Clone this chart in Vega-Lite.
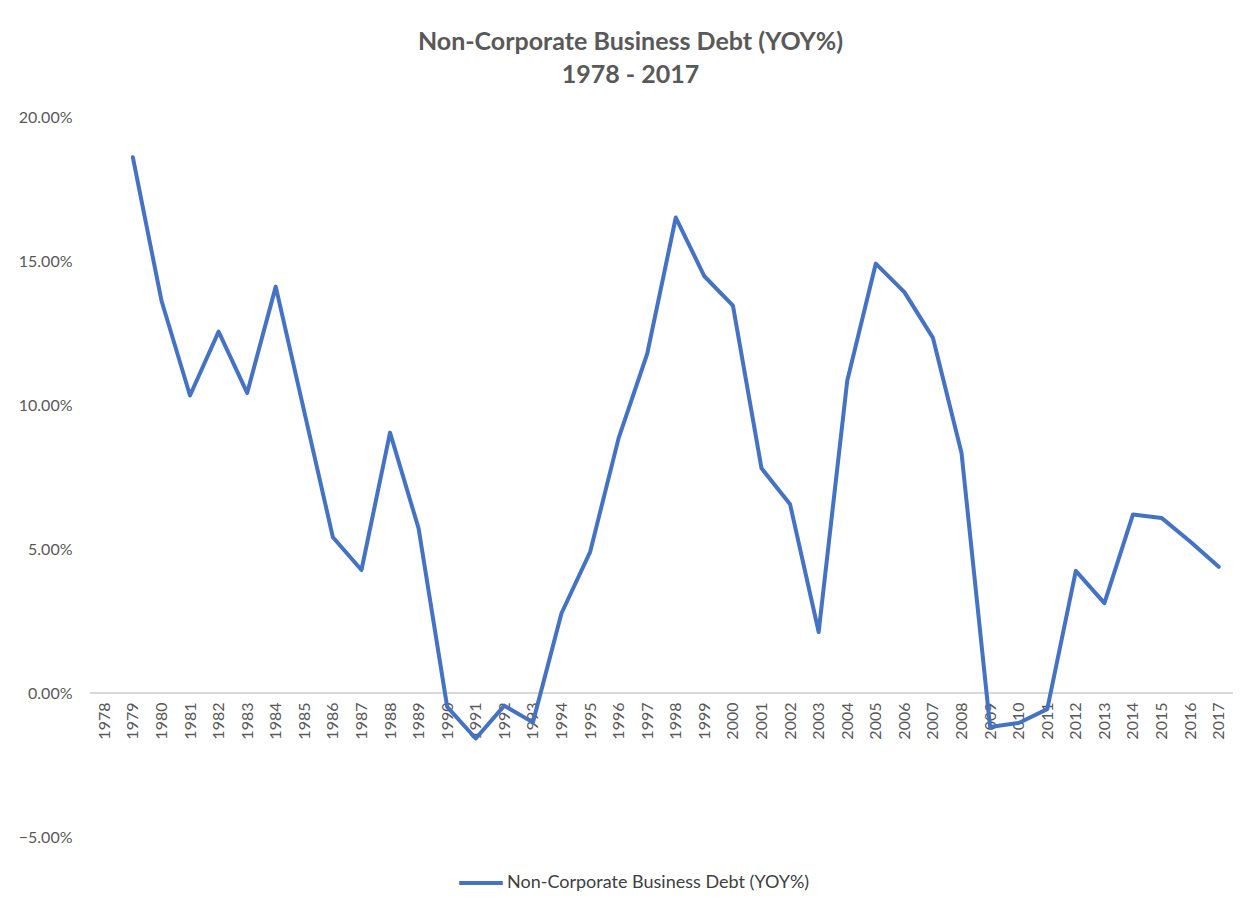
{
  "$schema": "https://vega.github.io/schema/vega-lite/v6.json",
  "width": 1143,
  "height": 720,
  "autosize": {"type": "none"},
  "padding": {"left": 90, "top": 117, "right": 18, "bottom": 69},
  "background": "white",
  "config": {
    "font": "Lato",
    "view": {"stroke": null}
  },
  "title": {
    "text": ["Non-Corporate Business Debt (YOY%)", "1978 - 2017"],
    "fontSize": 25,
    "fontWeight": "bold",
    "color": "#595959",
    "anchor": "middle",
    "frame": "group",
    "dx": -31,
    "offset": 21,
    "lineHeight": 33
  },
  "data": {
    "values": [
      {"Year": "1978", "Value": null, "Series": "Non-Corporate Business Debt (YOY%)"},
      {"Year": "1979", "Value": 0.1860, "Series": "Non-Corporate Business Debt (YOY%)"},
      {"Year": "1980", "Value": 0.1363, "Series": "Non-Corporate Business Debt (YOY%)"},
      {"Year": "1981", "Value": 0.1033, "Series": "Non-Corporate Business Debt (YOY%)"},
      {"Year": "1982", "Value": 0.1255, "Series": "Non-Corporate Business Debt (YOY%)"},
      {"Year": "1983", "Value": 0.1042, "Series": "Non-Corporate Business Debt (YOY%)"},
      {"Year": "1984", "Value": 0.1411, "Series": "Non-Corporate Business Debt (YOY%)"},
      {"Year": "1985", "Value": 0.0976, "Series": "Non-Corporate Business Debt (YOY%)"},
      {"Year": "1986", "Value": 0.0541, "Series": "Non-Corporate Business Debt (YOY%)"},
      {"Year": "1987", "Value": 0.0427, "Series": "Non-Corporate Business Debt (YOY%)"},
      {"Year": "1988", "Value": 0.0904, "Series": "Non-Corporate Business Debt (YOY%)"},
      {"Year": "1989", "Value": 0.0571, "Series": "Non-Corporate Business Debt (YOY%)"},
      {"Year": "1990", "Value": -0.0048, "Series": "Non-Corporate Business Debt (YOY%)"},
      {"Year": "1991", "Value": -0.0158, "Series": "Non-Corporate Business Debt (YOY%)"},
      {"Year": "1992", "Value": -0.0044, "Series": "Non-Corporate Business Debt (YOY%)"},
      {"Year": "1993", "Value": -0.0102, "Series": "Non-Corporate Business Debt (YOY%)"},
      {"Year": "1994", "Value": 0.0277, "Series": "Non-Corporate Business Debt (YOY%)"},
      {"Year": "1995", "Value": 0.0489, "Series": "Non-Corporate Business Debt (YOY%)"},
      {"Year": "1996", "Value": 0.0885, "Series": "Non-Corporate Business Debt (YOY%)"},
      {"Year": "1997", "Value": 0.1178, "Series": "Non-Corporate Business Debt (YOY%)"},
      {"Year": "1998", "Value": 0.1651, "Series": "Non-Corporate Business Debt (YOY%)"},
      {"Year": "1999", "Value": 0.1447, "Series": "Non-Corporate Business Debt (YOY%)"},
      {"Year": "2000", "Value": 0.1345, "Series": "Non-Corporate Business Debt (YOY%)"},
      {"Year": "2001", "Value": 0.0780, "Series": "Non-Corporate Business Debt (YOY%)"},
      {"Year": "2002", "Value": 0.0655, "Series": "Non-Corporate Business Debt (YOY%)"},
      {"Year": "2003", "Value": 0.0212, "Series": "Non-Corporate Business Debt (YOY%)"},
      {"Year": "2004", "Value": 0.1084, "Series": "Non-Corporate Business Debt (YOY%)"},
      {"Year": "2005", "Value": 0.1491, "Series": "Non-Corporate Business Debt (YOY%)"},
      {"Year": "2006", "Value": 0.1392, "Series": "Non-Corporate Business Debt (YOY%)"},
      {"Year": "2007", "Value": 0.1233, "Series": "Non-Corporate Business Debt (YOY%)"},
      {"Year": "2008", "Value": 0.0833, "Series": "Non-Corporate Business Debt (YOY%)"},
      {"Year": "2009", "Value": -0.0118, "Series": "Non-Corporate Business Debt (YOY%)"},
      {"Year": "2010", "Value": -0.0104, "Series": "Non-Corporate Business Debt (YOY%)"},
      {"Year": "2011", "Value": -0.0056, "Series": "Non-Corporate Business Debt (YOY%)"},
      {"Year": "2012", "Value": 0.0424, "Series": "Non-Corporate Business Debt (YOY%)"},
      {"Year": "2013", "Value": 0.0312, "Series": "Non-Corporate Business Debt (YOY%)"},
      {"Year": "2014", "Value": 0.0620, "Series": "Non-Corporate Business Debt (YOY%)"},
      {"Year": "2015", "Value": 0.0608, "Series": "Non-Corporate Business Debt (YOY%)"},
      {"Year": "2016", "Value": 0.0526, "Series": "Non-Corporate Business Debt (YOY%)"},
      {"Year": "2017", "Value": 0.0438, "Series": "Non-Corporate Business Debt (YOY%)"}
    ]
  },
  "layer": [
    {
      "mark": {"type": "rule", "color": "#d9d9d9", "strokeWidth": 1.5},
      "encoding": {"y": {"datum": 0, "type": "quantitative", "scale": {"domain": [-0.05, 0.2], "nice": false}}}
    },
    {
      "mark": {"type": "line", "strokeWidth": 4, "strokeJoin": "round", "strokeCap": "round"},
      "encoding": {
        "x": {
          "field": "Year",
          "type": "ordinal",
          "sort": null,
          "scale": {"type": "point", "padding": 0.5, "domain": ["1978","1979","1980","1981","1982","1983","1984","1985","1986","1987","1988","1989","1990","1991","1992","1993","1994","1995","1996","1997","1998","1999","2000","2001","2002","2003","2004","2005","2006","2007","2008","2009","2010","2011","2012","2013","2014","2015","2016","2017"]},
          "axis": {
            "title": null,
            "labelAngle": -90,
            "labelAlign": "right",
            "labelBaseline": "middle",
            "labelFontSize": 16,
            "labelColor": "#595959",
            "labelPadding": 9,
            "domain": false,
            "ticks": false,
            "grid": false,
            "offset": -144
          }
        },
        "y": {
          "field": "Value",
          "type": "quantitative",
          "scale": {"domain": [-0.05, 0.2], "nice": false},
          "axis": {
            "title": null,
            "format": ".2%",
            "values": [-0.05, 0, 0.05, 0.1, 0.15, 0.2],
            "labelFontSize": 16,
            "labelColor": "#595959",
            "labelPadding": 18,
            "domain": false,
            "ticks": false,
            "grid": false
          }
        },
        "color": {
          "field": "Series",
          "type": "nominal",
          "scale": {"range": ["#4472C4"]},
          "legend": {
            "title": null,
            "orient": "none",
            "legendX": 367,
            "legendY": 742,
            "symbolType": "stroke",
            "symbolStrokeWidth": 4,
            "symbolSize": 1900,
            "labelFontSize": 18,
            "labelLimit": 500,
            "labelColor": "#404040",
            "labelOffset": 2
          }
        }
      }
    }
  ]
}
